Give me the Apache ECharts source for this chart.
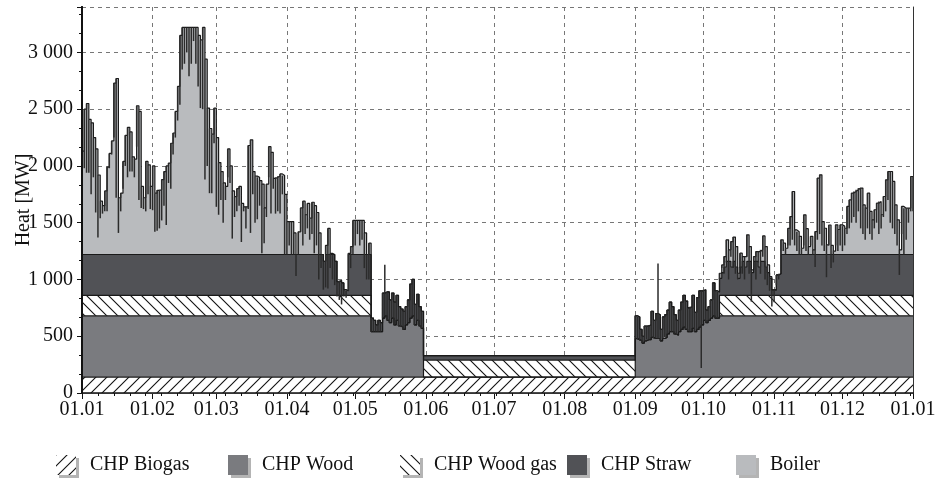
<!DOCTYPE html>
<html><head><meta charset="utf-8">
<script src="https://cdn.jsdelivr.net/npm/echarts@6/dist/echarts.min.js"></script>
<style>html,body{margin:0;padding:0;background:#fff}#c{width:942px;height:479px}</style>
</head><body><div id="c"></div>
<script>
// ===== Data: one value per day (MW), day 0 = 1 January =====
// Total heat demand (daily level), Jan..May (150 days)
const heatJanMay = [
 2130,2500,2550,2410,2380,2250,2150,1920,1690,1650,
 1780,1990,2110,2220,2730,2770,1720,1760,2040,2270,
 2340,2300,2080,2060,2530,2480,1820,1720,2040,2010,1820,
 2000,1760,1785,1790,1880,1950,2000,2025,2200,2290,
 2480,2700,3150,3220,3220,3220,3220,3220,3220,3220,
 3150,3110,3220,2940,2510,2330,2280,2510,
 2250,2030,1950,1850,1820,2150,2000,1780,1730,1800,
 1820,1670,1640,1640,2180,2230,1950,1910,1900,1870,
 1840,1630,1840,2170,2120,1890,1900,1910,1930,1915,1750,
 1510,1510,1510,1410,1220,1420,1630,1690,1570,1670,
 1540,1680,1650,1590,1410,1220,1160,1300,1450,1230,
 1220,1160,980,990,970,910,900,1230,1290,1520,
 1520,1520,1520,1520,1410,1220,1320,
 660,640,600,640,620,880,890,890,820,880,800,860,760,740,720,760,820,960,1000,780,870,760,720
];
const heatSummer = 330;      // 1 Jun .. 31 Aug (93 days)
const summerDays = 93;
// Sep 1 .. Oct 7 (37 days)
const heatSep = [
 680,670,560,500,590,590,600,720,640,700,
 690,560,670,690,730,800,760,690,640,730,
 800,860,810,750,760,860,710,840,900,900,
 910,730,760,820,970,900,890
];
// Oct 8 .. Dec 31 (85 days)
const heatOctDec = [
 1055,1128,1202,1349,1261,1334,1373,1290,1055,1232,
 1202,1202,1393,1290,1085,1202,1246,1246,1261,1384,
 1290,1128,1025,908,908,1040,1050,
 1349,1320,1275,1450,1554,1775,1437,1420,1380,1275,1569,1447,1290,1380,1261,
 1422,1893,1922,1510,1451,1305,1480,1300,1250,1481,
 1440,1481,1470,1451,1643,1701,1761,1775,1790,1805,
 1805,1657,1628,1760,1600,1525,1614,1672,1687,1570,
 1731,1878,1951,1951,1864,1657,1525,1261,1643,1628,
 1628,1628,1907
];
// Intraday minimum of the demand (dark strokes)
const lowJanMay = [
 2130,1980,1940,1940,1750,1900,1590,1370,1540,1580,
 1600,1600,1980,2100,2250,1720,1410,1600,1800,2000,
 1900,1950,1950,1900,2170,1700,1630,1620,1600,1750,1620,
 1610,1420,1430,1450,1520,1650,1480,1850,1800,2100,
 2250,2400,2540,2850,2900,3000,2790,2900,3100,2900,
 2700,2510,2500,1880,2000,1760,1760,2200,
 1640,1570,1700,1500,1700,1900,1850,1360,1550,1600,
 1650,1330,1600,1450,1620,1410,1750,1500,1530,1650,
 1230,1320,1550,1900,1580,1800,1580,1600,1580,1750,1220,
 1220,1300,1220,1220,1030,1220,1420,1300,1400,1450,
 1350,1400,1230,1300,1000,1100,910,930,920,1100,
 1000,950,850,820,780,850,840,900,1100,1220,
 1300,1400,1300,1350,1100,1000,1000,
 540,540,540,540,540,660,680,640,620,660,600,640,590,580,560,600,620,660,680,600,640,590,570
];
const lowSep = [
 480,470,460,440,460,470,470,490,480,480,
 480,460,480,490,520,540,540,520,510,540,
 560,580,560,540,540,570,540,560,580,220,
 640,620,640,660,680,660,660
];
const lowOctDec = [
 1000,1100,1050,1150,1000,1200,1100,1050,1000,1100,
 1050,1000,1200,1050,805,1100,1000,1150,1050,1200,
 1000,950,900,761,800,950,1000,
 1220,1250,1220,1300,1300,1350,1300,1250,1220,1220,
 1300,1250,1220,1300,1220,1110,1350,1400,1300,1250,
 1020,1300,1100,1150,1300,1250,1300,1250,1300,1400,
 1450,1500,1550,1500,1600,1450,1400,1349,1450,1400,
 1350,1450,1500,1400,1450,1550,1600,1700,1500,1450,
 1400,1300,1040,1400,1220,1350,1500,1600
];
// Short peaks above the daily level: [day, MW]
const heatPeaks = [[133, 1130], [253, 1140]];

// Producers (MW). Run entries: [days, value]
const woodMay = [400,400,400,400,400,520,540,500,480,520,460,500,450,440,420,460,480,520,540,460,500,450,430];
const woodSep = [340,330,320,300,320,330,330,350,340,340,340,320,340,350,380,400,400,380,370,400,420,440,420,400,400,430,400,420,440,460,500,480,500,520,540,520,520];
const strawMay = [120,100,60,100,80,220,210,250,200,220,200,220,170,160,160,160,200,300,320,180,230,170,150];
const strawSep = [200,200,100,60,130,120,130,230,160,220,210,100,190,200,210,260,220,170,130,190,240,280,250,210,220,290,170,280,320,300,270,110,120,160,290,240,230];
const strawOct = [150,200,250,300,300,250,300,250,150,250,300,250,300,300,200,300,300,250,300,300,250,200,150,48,48,180,190];
const biogasRuns = [[365, 140]];
const woodRuns = [[127, 540], ...woodMay, [93, 0], ...woodSep, [85, 540]];
const woodGasRuns = [[127, 180], [23, 0], [93, 150], [37, 0], [85, 180]];
const strawRuns = [[106, 360], 300, [4, 360], 300, 120, 130, 110, 50, 40, [10, 360], ...strawMay, [93, 40], ...strawSep, ...strawOct, [58, 360]];

const seriesNames = ['CHP Biogas', 'CHP Wood', 'CHP Wood gas', 'CHP Straw', 'Boiler'];

// ===== build =====
function expand(parts) {
  const out = [];
  parts.forEach(p => { if (Array.isArray(p)) { for (let i = 0; i < p[0]; i++) out.push(p[1]); } else out.push(p); });
  return out;
}
const heat = expand([...heatJanMay, [summerDays, heatSummer], ...heatSep, ...heatOctDec]);
const low = expand([...lowJanMay, [summerDays, null], ...lowSep, ...lowOctDec]);
const biogas = expand(biogasRuns), wood = expand(woodRuns), woodGas = expand(woodGasRuns), straw = expand(strawRuns);
const boiler = heat.map((h, i) => Math.max(0, h - biogas[i] - wood[i] - woodGas[i] - straw[i]));
const peakMap = {}; heatPeaks.forEach(([d, v]) => peakMap[d] = v);
const rangeTop = heat.map((h, i) => peakMap[i] != null ? peakMap[i] : h);
const rangeVal = low.map((l, i) => l == null ? null : Math.max(0, rangeTop[i] - l));
const close = a => a.concat([a[a.length - 1]]);

const cats = [];
for (let d = 0; d <= 365; d++) {
  const dt = new Date(Date.UTC(2015, 0, 1 + d));
  const p = n => (n < 10 ? '0' : '') + n;
  cats.push(p(dt.getUTCDate()) + '.' + p(dt.getUTCMonth() + 1));
}
const isMonth = (i, v) => cats[i].slice(0, 3) === '01.';

function hatch(dir) {
  const s = 11, c = document.createElement('canvas');
  c.width = c.height = s;
  const g = c.getContext('2d');
  g.fillStyle = '#fff'; g.fillRect(0, 0, s, s);
  g.strokeStyle = '#111'; g.lineWidth = 1.1; g.beginPath();
  if (dir > 0) { g.moveTo(0, s); g.lineTo(s, 0); g.moveTo(-2, 2); g.lineTo(2, -2); g.moveTo(s - 2, s + 2); g.lineTo(s + 2, s - 2); }
  else { g.moveTo(0, 0); g.lineTo(s, s); g.moveTo(s - 2, -2); g.lineTo(s + 2, 2); g.moveTo(-2, s - 2); g.lineTo(2, s + 2); }
  g.stroke();
  return { image: c, repeat: 'repeat' };
}
const fills = [hatch(1), '#7a7b7f', hatch(-1), '#515256', '#b9bbbe'];
const SERIF = 'Liberation Serif';
const INK = '#111';
const FS = 20;

function area(idx, data) {
  return {
    name: seriesNames[idx], type: 'line', stack: 'heat', step: 'end', symbol: 'none', showSymbol: false,
    data: close(data), lineStyle: { color: '#1a1a1a', width: 1.2 },
    itemStyle: { color: fills[idx] }, areaStyle: { color: fills[idx], opacity: 1 },
    emphasis: { disabled: true }, silent: true, z: 2
  };
}
const fmt = v => v >= 1000 ? Math.floor(v / 1000) + ' ' + String(v % 1000).padStart(3, '0') : String(v);
const legendLeft = [51, 223, 395, 562, 731];

const chart = echarts.init(document.getElementById('c'), null, { renderer: 'canvas' });
chart.setOption({
  animation: false,
  backgroundColor: '#fff',
  grid: { left: 82, right: 29, top: 7, bottom: 86, containLabel: false, outerBoundsMode: 'none' },
  xAxis: [
    { type: 'category', data: cats, boundaryGap: false,
      axisLine: { lineStyle: { color: INK, width: 1.5 } },
      axisTick: { interval: isMonth, length: 6, lineStyle: { color: INK } },
      axisLabel: { interval: isMonth, fontFamily: SERIF, fontSize: FS, color: INK, margin: 7 },
      splitLine: { show: true, interval: isMonth, lineStyle: { color: '#777', type: [4, 4], width: 1 } } },
    { type: 'category', data: cats, boundaryGap: false, position: 'bottom', z: 10,
      axisLine: { lineStyle: { color: INK, width: 1.5 } },
      axisTick: { interval: (i) => i % 7 === 0, length: 3, lineStyle: { color: INK } },
      axisLabel: { show: false }, splitLine: { show: false } },
    { type: 'category', data: cats, boundaryGap: false, position: 'top', z: 10,
      axisLine: { lineStyle: { color: '#333', width: 1 } },
      axisTick: { show: false }, axisLabel: { show: false }, splitLine: { show: false } }
  ],
  yAxis: [
    { type: 'value', min: 0, max: 3400, interval: 500,
      axisLine: { show: true, lineStyle: { color: INK, width: 2 } },
      axisTick: { show: true, length: 5, lineStyle: { color: INK } },
      minorTick: { show: true, splitNumber: 3, length: 3, lineStyle: { color: INK } },
      axisLabel: { formatter: fmt, showMaxLabel: false, fontFamily: SERIF, fontSize: FS, color: INK, margin: 9 },
      splitLine: { show: true, lineStyle: { color: '#777', type: [4, 4], width: 1 } },
      name: 'Heat [MW]', nameLocation: 'middle', nameGap: 48, nameMoveOverlap: false,
      nameTextStyle: { fontFamily: SERIF, fontSize: FS, color: INK } },
    { type: 'value', min: 0, max: 3400, position: 'right', z: 10,
      axisLine: { show: true, lineStyle: { color: '#333', width: 1 } },
      axisTick: { show: false }, axisLabel: { show: false }, splitLine: { show: false } },
    { type: 'value', min: 0, max: 3400, position: 'left', z: 10,
      axisLine: { show: true, lineStyle: { color: INK, width: 2 } },
      axisTick: { show: false }, axisLabel: { show: false }, splitLine: { show: false } }
  ],
  legend: seriesNames.map((n, i) => ({
    left: legendLeft[i], top: 450, itemWidth: 20, itemHeight: 20, selectedMode: false,
    data: [{ name: n, icon: 'rect', itemStyle: { color: fills[i], borderWidth: 0, shadowColor: '#b4b4b4', shadowOffsetX: 3, shadowOffsetY: 3, shadowBlur: 0 } }],
    textStyle: { fontFamily: SERIF, fontSize: FS, color: INK, padding: [0, 0, 0, 9] }
  })),
  series: [
    area(0, biogas), area(1, wood), area(2, woodGas), area(3, straw), area(4, boiler),
    { name: 'min', type: 'bar', stack: 'rng', data: close(low), barWidth: 1.5, silent: true, z: 3,
      itemStyle: { color: 'rgba(0,0,0,0)' } },
    { name: 'range', type: 'bar', stack: 'rng', data: close(rangeVal), barWidth: 1.5, silent: true, z: 3,
      itemStyle: { color: '#2b2b2b' } }
  ]
});
</script></body></html>
